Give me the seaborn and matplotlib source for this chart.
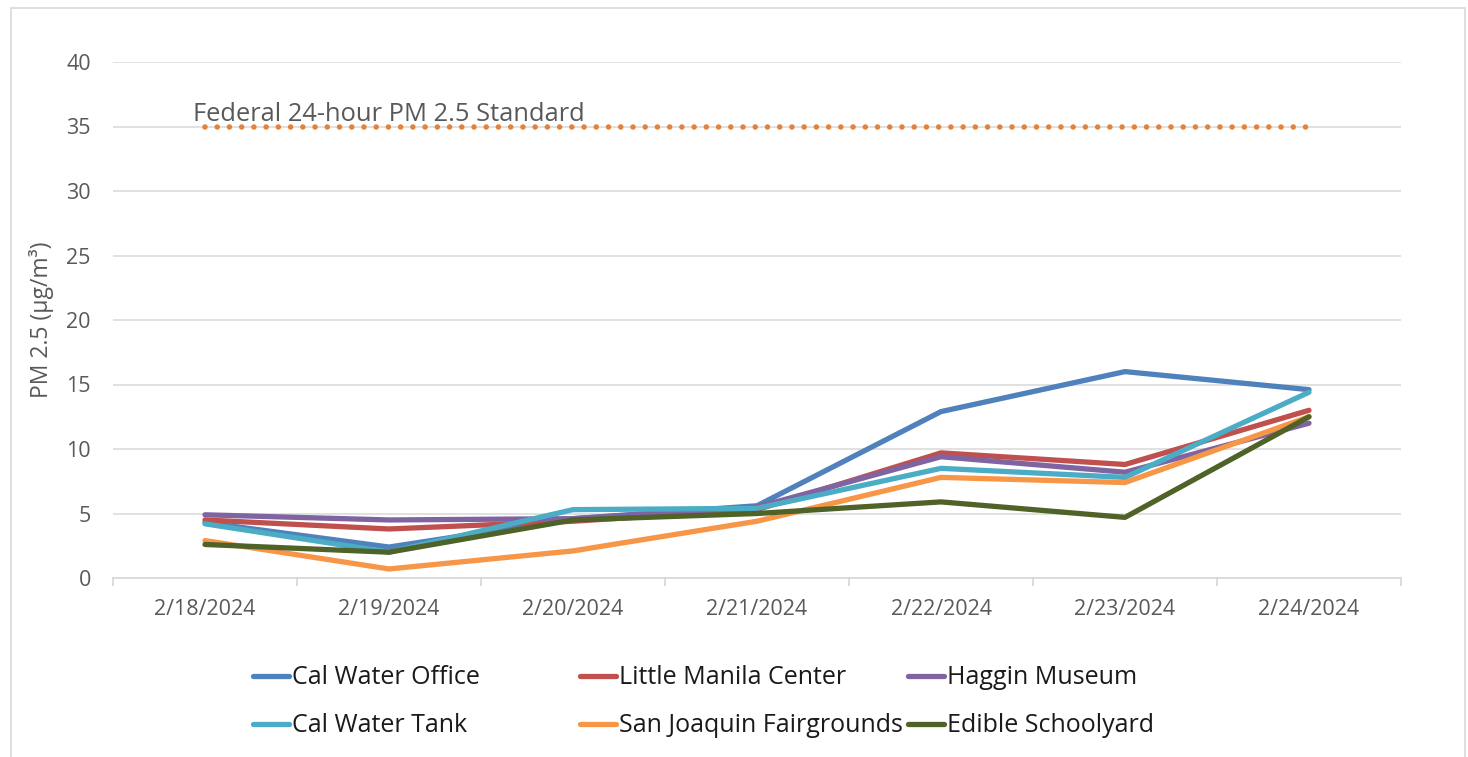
import matplotlib
matplotlib.use("Agg")
import matplotlib.pyplot as plt
import seaborn as sns
import pandas as pd

dates = ["2/18/2024", "2/19/2024", "2/20/2024", "2/21/2024", "2/22/2024", "2/23/2024", "2/24/2024"]
cal_water_office = [4.3, 2.4, 4.6, 5.6, 12.9, 16.0, 14.6]
little_manila_center = [4.5, 3.8, 4.4, 5.3, 9.7, 8.8, 13.0]
haggin_museum = [4.9, 4.5, 4.6, 5.5, 9.4, 8.2, 12.0]
cal_water_tank = [4.2, 2.0, 5.3, 5.4, 8.5, 7.8, 14.4]
san_joaquin_fairgrounds = [2.9, 0.7, 2.1, 4.4, 7.8, 7.4, 12.5]
edible_schoolyard = [2.6, 2.0, 4.5, 5.0, 5.9, 4.7, 12.5]
standard = [35, 35, 35, 35, 35, 35, 35]

series_names = ["Cal Water Office", "Little Manila Center", "Haggin Museum",
                "Cal Water Tank", "San Joaquin Fairgrounds", "Edible Schoolyard"]
series_values = [cal_water_office, little_manila_center, haggin_museum,
                 cal_water_tank, san_joaquin_fairgrounds, edible_schoolyard]
colors = ["#4F81BD", "#C0504D", "#8064A2", "#4BACC6", "#F79646", "#4F6228"]
y_ticks = [0, 5, 10, 15, 20, 25, 30, 35, 40]

rows = []
for name, vals in zip(series_names, series_values):
    for d, v in zip(dates, vals):
        rows.append({"Date": d, "Site": name, "PM": v})
df = pd.DataFrame(rows)

sns.set_theme(style="white")
TEXT = "#595959"
GRID = "#D9D9D9"
plt.rcParams["font.family"] = ["Open Sans", "DejaVu Sans"]

W, H = 1468, 757
fig = plt.figure(figsize=(W / 100, H / 100), dpi=100)
ax = fig.add_axes([113 / W, 1 - 578 / H, (1401 - 113) / W, (578 - 62) / H])

sns.lineplot(data=df, x="Date", y="PM", hue="Site", hue_order=series_names,
             palette=colors, linewidth=3.8, sort=False, ax=ax, legend=False,
             solid_capstyle="round", solid_joinstyle="round")

ax.plot(dates, standard, color="#E5823A", linewidth=4.0,
        linestyle=(0, (0.001, 2.2)), dash_capstyle="round", zorder=1.5)
ax.text(-0.065, 35.45, "Federal 24-hour PM 2.5 Standard", fontsize=18.4,
        color=TEXT, ha="left", va="baseline")

ax.set_xlim(-0.5, 6.5)
ax.set_ylim(0, 40)
ax.set_yticks(y_ticks)
ax.set_yticklabels([str(t) for t in y_ticks])
ax.grid(axis="y", color=GRID, linewidth=1.1, zorder=0)
ax.set_axisbelow(True)
for s in ["left", "right", "top"]:
    ax.spines[s].set_visible(False)
ax.spines["bottom"].set_color(GRID)
ax.spines["bottom"].set_linewidth(1.3)
ax.set_xticks([i - 0.5 for i in range(len(dates) + 1)], minor=True)
ax.tick_params(axis="x", which="minor", length=6, width=1.3, color=GRID, direction="out", bottom=True)
ax.tick_params(axis="x", which="major", length=0, pad=15, labelsize=15.5, labelcolor=TEXT)
ax.tick_params(axis="y", which="major", length=0, pad=16, labelsize=15.5, labelcolor=TEXT)
ax.set_xlabel("")
ax.set_ylabel("PM 2.5 (µg/m³)", fontsize=16.5, color=TEXT, labelpad=9)

# legend: 2 rows x 3 equal-width columns
col_x = [253, 580, 908]
row_y = [678, 726]
for i, name in enumerate(series_names):
    r, c = divmod(i, 3)
    h = plt.Line2D([], [], color=colors[i], linewidth=3.8, solid_capstyle="round")
    leg = fig.legend([h], [name], loc="center left",
                     bbox_to_anchor=(col_x[c] / W, 1 - row_y[r] / H),
                     frameon=False, borderpad=0, borderaxespad=0,
                     handlelength=1.45, handletextpad=0.1,
                     prop={"family": "Open Sans", "size": 18})
    for t in leg.get_texts():
        t.set_color("#1a1a1a")

# chart border
fig.add_artist(plt.Line2D([11 / W, 11 / W], [0, 1 - 8 / H], transform=fig.transFigure, color=GRID, lw=1.2))
fig.add_artist(plt.Line2D([11 / W, 1465 / W], [1 - 8 / H, 1 - 8 / H], transform=fig.transFigure, color=GRID, lw=1.2))
fig.add_artist(plt.Line2D([1465 / W, 1465 / W], [0, 1 - 8 / H], transform=fig.transFigure, color=GRID, lw=1.2))

fig.savefig("out.png", dpi=100, facecolor="white")
